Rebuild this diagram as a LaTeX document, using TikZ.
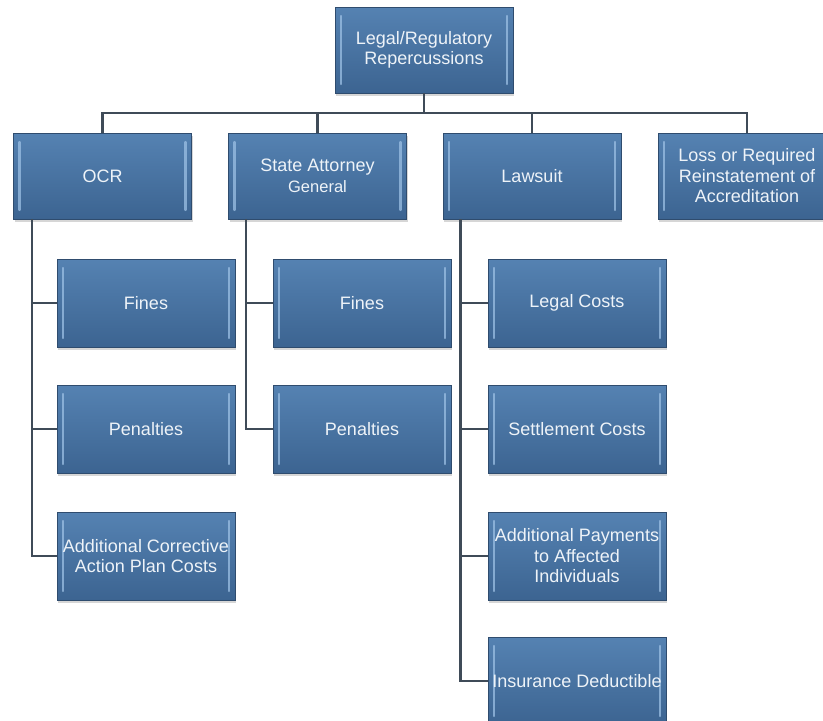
\documentclass[tikz,border=0pt]{standalone}
\usepackage{fontspec}
\setmainfont{Liberation Sans}
\usetikzlibrary{shadows}
\definecolor{tiletop}{HTML}{5582B2}
\definecolor{tilebot}{HTML}{3C6491}
\definecolor{tileedge}{HTML}{2F4C6E}
\definecolor{tileglint}{HTML}{9CC0E4}
\definecolor{tiletext}{HTML}{EEF3F8}
\definecolor{wire}{HTML}{3F4B58}
\tikzset{
  tile/.style={rectangle, minimum width=178pt, minimum height=86pt, inner sep=0pt,
    top color=tiletop, bottom color=tilebot, draw=tileedge, line width=0.9pt,
    text=tiletext, align=center,
    font=\fontsize{18}{20.5}\selectfont,
    drop shadow={shadow xshift=1pt, shadow yshift=-3pt, fill=black!45, opacity=0.35},
    path picture={
      \draw[tileglint, line width=2.2pt, opacity=0.75, line cap=round]
        ([xshift=6pt,yshift=-9pt]path picture bounding box.north west) --
        ([xshift=6pt,yshift=9pt]path picture bounding box.south west);
      \draw[tileglint, line width=2.2pt, opacity=0.75, line cap=round]
        ([xshift=-6pt,yshift=-9pt]path picture bounding box.north east) --
        ([xshift=-6pt,yshift=9pt]path picture bounding box.south east);
    }},
  child/.style={tile, minimum height=88pt},
  wire/.style={draw=wire, line width=2.4pt}
}
\begin{document}
\begin{tikzpicture}[x=1pt,y=-1pt]
\useasboundingbox (0,0) rectangle (823,721);
\clip (0,0) rectangle (823,721);
\fill[white] (0,0) rectangle (823,721);

% top level
\node[tile] (root) at (424,50) {Legal/Regulatory\\Repercussions};

% second level
\node[tile] (ocr)  at (102.5,176) {OCR};
\node[tile] (sag)  at (317.5,176) {State Attorney\\{\fontsize{16.5}{20}\selectfont General}};
\node[tile] (law)  at (532,176) {Lawsuit};
\node[tile] (acc)  at (747,176) {Loss or Required\\Reinstatement of\\Accreditation};

% OCR branch
\node[child] (ocrA) at (146,303) {Fines};
\node[child] (ocrB) at (146,429) {Penalties};
\node[child] (ocrC) at (146,556) {Additional Corrective\\Action Plan Costs};

% State Attorney General branch
\node[child] (sagA) at (362,303) {Fines};
\node[child] (sagB) at (362,429) {Penalties};

% Lawsuit branch
\node[child] (lawA) at (577,303) {Legal Costs};
\node[child] (lawB) at (577,429) {Settlement Costs};
\node[child] (lawC) at (577,556) {Additional Payments\\to Affected\\Individuals};
\node[child] (lawD) at (577,681) {Insurance Deductible};

% connectors from the top box to the second level
\coordinate (bus) at (0,113);
\draw[wire] (root.south) -- (root.south |- bus);
\draw[wire] (ocr.north) |- (root.south |- bus) -| (acc.north);
\draw[wire] (sag.north) -- (sag.north |- bus);
\draw[wire] (law.north) -- (law.north |- bus);

% connectors into each branch
\draw[wire] ([xshift=19pt]ocr.south west) |- (ocrA.west);
\draw[wire] ([xshift=19pt]ocr.south west) |- (ocrB.west);
\draw[wire] ([xshift=19pt]ocr.south west) |- (ocrC.west);
\draw[wire] ([xshift=18pt]sag.south west) |- (sagA.west);
\draw[wire] ([xshift=18pt]sag.south west) |- (sagB.west);
\draw[wire] ([xshift=18pt]law.south west) |- (lawA.west);
\draw[wire] ([xshift=18pt]law.south west) |- (lawB.west);
\draw[wire] ([xshift=18pt]law.south west) |- (lawC.west);
\draw[wire] ([xshift=18pt]law.south west) |- (lawD.west);
\end{tikzpicture}
\end{document}
